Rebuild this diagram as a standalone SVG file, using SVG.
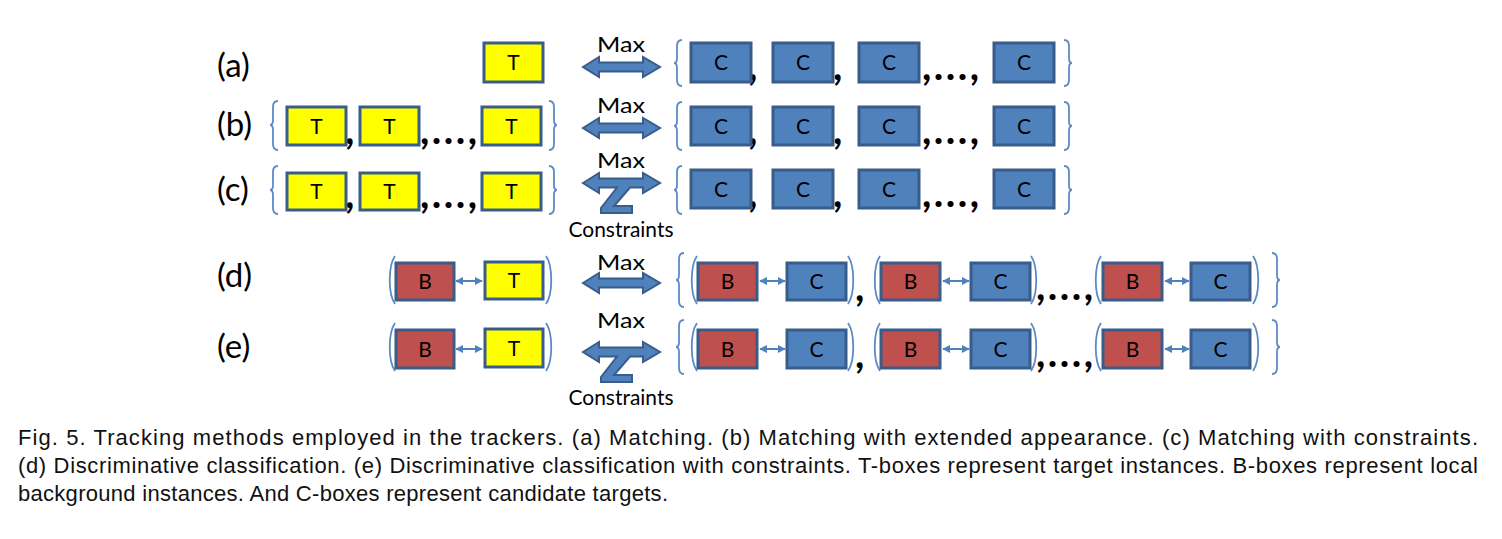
<svg xmlns="http://www.w3.org/2000/svg" xmlns:xlink="http://www.w3.org/1999/xlink" width="1502" height="539" viewBox="0 0 1502 539">
<style>
.t{fill:#FFFF00;stroke:#385D8A;stroke-width:3}
.c{fill:#4F81BD;stroke:#385D8A;stroke-width:3}
.b{fill:#C0504D;stroke:#385D8A;stroke-width:3}
.lt{font-family:Lato,"Open Sans",sans-serif;font-size:21px;fill:#000;text-anchor:middle}
.lab{font-family:Lato,"Open Sans",sans-serif;font-size:33px;fill:#000}
.max{font-family:Lato,"Open Sans",sans-serif;font-size:22px;fill:#000;text-anchor:middle}
.cm{font-family:Lato,"Open Sans",sans-serif;font-size:40px;font-weight:bold;fill:#000}
.br{fill:none;stroke:#5B8BC6;stroke-width:1.8}
.big{fill:#4F81BD;stroke:#385D8A;stroke-width:2;stroke-linejoin:miter}
.sm{stroke:#4F81BD;stroke-width:2;fill:none}
.cap{font-family:"Liberation Sans",Arial,sans-serif;font-size:22px;fill:#111}
</style>
<defs>
<marker id="ah" viewBox="0 0 10 10" refX="9" refY="5" markerWidth="4" markerHeight="4" orient="auto-start-reverse" markerUnits="strokeWidth">
<path d="M0 0 L10 5 L0 10 Z" fill="#4F81BD"/>
</marker>
<path id="dbl" class="big" d="M0 0 L16 -10 L16 -4.5 L60 -4.5 L60 -10 L77 0 L60 10 L60 4.5 L16 4.5 L16 10 Z"/>
<path id="dblz" class="big" d="M0 0 L16 -10 L16 -4.5 L60 -4.5 L60 -10 L77 0 L60 10 L60 4.5 L47 4.5 L31 23 L49 23 L49 30 L18 30 L18 25 L34 4.5 L16 4.5 L16 10 Z"/>
</defs>
<rect width="1502" height="539" fill="#fff"/>

<!-- row labels -->
<g id="labels">
<text class="lab" x="217" y="77">(a)</text>
<text class="lab" x="217" y="136">(b)</text>
<text class="lab" x="217" y="201">(c)</text>
<text class="lab" x="217" y="287">(d)</text>
<text class="lab" x="217" y="358">(e)</text>
</g>

<!-- connectors -->
<g id="connectors">
<use xlink:href="#dbl" href="#dbl" x="583" y="67"/>
<use xlink:href="#dbl" href="#dbl" x="583" y="128"/>
<use xlink:href="#dblz" href="#dblz" x="583" y="183"/>
<use xlink:href="#dbl" href="#dbl" x="583" y="283"/>
<use xlink:href="#dblz" href="#dblz" x="583" y="352"/>
<line class="sm" x1="456" y1="281" x2="482" y2="281" marker-start="url(#ah)" marker-end="url(#ah)"/>
<line class="sm" x1="760" y1="281" x2="785" y2="281" marker-start="url(#ah)" marker-end="url(#ah)"/>
<line class="sm" x1="943" y1="281" x2="969" y2="281" marker-start="url(#ah)" marker-end="url(#ah)"/>
<line class="sm" x1="1165" y1="281" x2="1189" y2="281" marker-start="url(#ah)" marker-end="url(#ah)"/>
<line class="sm" x1="456" y1="349" x2="482" y2="349" marker-start="url(#ah)" marker-end="url(#ah)"/>
<line class="sm" x1="760" y1="349" x2="785" y2="349" marker-start="url(#ah)" marker-end="url(#ah)"/>
<line class="sm" x1="943" y1="349" x2="969" y2="349" marker-start="url(#ah)" marker-end="url(#ah)"/>
<line class="sm" x1="1165" y1="349" x2="1189" y2="349" marker-start="url(#ah)" marker-end="url(#ah)"/>
<text class="max" x="621" y="52" textLength="48" lengthAdjust="spacingAndGlyphs">Max</text>
<text class="max" x="621" y="113" textLength="48" lengthAdjust="spacingAndGlyphs">Max</text>
<text class="max" x="621" y="168" textLength="48" lengthAdjust="spacingAndGlyphs">Max</text>
<text class="max" x="621" y="237" textLength="105" lengthAdjust="spacingAndGlyphs">Constraints</text>
<text class="max" x="621" y="270" textLength="48" lengthAdjust="spacingAndGlyphs">Max</text>
<text class="max" x="621" y="328" textLength="48" lengthAdjust="spacingAndGlyphs">Max</text>
<text class="max" x="621" y="405" textLength="105" lengthAdjust="spacingAndGlyphs">Constraints</text>
</g>

<!-- braces, parentheses and commas -->
<g id="punctuation">
<path class="br" d="M682 40 Q677 40 677 46 L677 58 Q677 63 674 63 Q677 63 677 68 L677 80 Q677 86 682 86"/>
<path class="br" d="M1064 40 Q1069 40 1069 46 L1069 58 Q1069 63 1072 63 Q1069 63 1069 68 L1069 80 Q1069 86 1064 86"/>
<path class="br" d="M278 101 Q273 101 273 107 L273 120 Q273 125 270 125 Q273 125 273 130 L273 144 Q273 150 278 150"/>
<path class="br" d="M549 101 Q554 101 554 107 L554 120 Q554 125 557 125 Q554 125 554 130 L554 144 Q554 150 549 150"/>
<path class="br" d="M682 102 Q677 102 677 108 L677 121 Q677 126 674 126 Q677 126 677 131 L677 144 Q677 150 682 150"/>
<path class="br" d="M1064 102 Q1069 102 1069 108 L1069 121 Q1069 126 1072 126 Q1069 126 1069 131 L1069 144 Q1069 150 1064 150"/>
<path class="br" d="M278 166 Q273 166 273 172 L273 185 Q273 190 270 190 Q273 190 273 195 L273 208 Q273 214 278 214"/>
<path class="br" d="M549 166 Q554 166 554 172 L554 185 Q554 190 557 190 Q554 190 554 195 L554 208 Q554 214 549 214"/>
<path class="br" d="M682 166 Q677 166 677 172 L677 185 Q677 190 674 190 Q677 190 677 195 L677 208 Q677 214 682 214"/>
<path class="br" d="M1064 166 Q1069 166 1069 172 L1069 185 Q1069 190 1072 190 Q1069 190 1069 195 L1069 208 Q1069 214 1064 214"/>
<path class="br" d="M684 253 Q679 253 679 259 L679 275 Q679 280 676 280 Q679 280 679 285 L679 301 Q679 307 684 307"/>
<path class="br" d="M1272 253 Q1277 253 1277 259 L1277 275 Q1277 280 1280 280 Q1277 280 1277 285 L1277 301 Q1277 307 1272 307"/>
<path class="br" d="M684 320 Q679 320 679 326 L679 342 Q679 347 676 347 Q679 347 679 352 L679 368 Q679 374 684 374"/>
<path class="br" d="M1272 320 Q1277 320 1277 326 L1277 342 Q1277 347 1280 347 Q1277 347 1277 352 L1277 368 Q1277 374 1272 374"/>
<path class="br" d="M395 256 C388 266 388 294 395 304"/>
<path class="br" d="M546 256 C553 266 553 294 546 304"/>
<path class="br" d="M697 256 C690 266 690 294 697 304"/>
<path class="br" d="M848 256 C855 266 855 294 848 304"/>
<path class="br" d="M880 256 C873 266 873 294 880 304"/>
<path class="br" d="M1031 256 C1038 266 1038 294 1031 304"/>
<path class="br" d="M1101 256 C1094 266 1094 294 1101 304"/>
<path class="br" d="M1253 256 C1260 266 1260 294 1253 304"/>
<path class="br" d="M395 323 C388 333 388 361 395 371"/>
<path class="br" d="M546 323 C553 333 553 361 546 371"/>
<path class="br" d="M697 323 C690 333 690 361 697 371"/>
<path class="br" d="M848 323 C855 333 855 361 848 371"/>
<path class="br" d="M880 323 C873 333 873 361 880 371"/>
<path class="br" d="M1031 323 C1038 333 1038 361 1031 371"/>
<path class="br" d="M1101 323 C1094 333 1094 361 1101 371"/>
<path class="br" d="M1253 323 C1260 333 1260 361 1253 371"/>
<text class="cm" x="748" y="80">,</text>
<text class="cm" x="833" y="80">,</text>
<text class="cm" x="922" y="80" textLength="57" lengthAdjust="spacing">,...,</text>
<text class="cm" x="345" y="144">,</text>
<text class="cm" x="420" y="144" textLength="57" lengthAdjust="spacing">,...,</text>
<text class="cm" x="748" y="144">,</text>
<text class="cm" x="833" y="144">,</text>
<text class="cm" x="922" y="144" textLength="57" lengthAdjust="spacing">,...,</text>
<text class="cm" x="345" y="208">,</text>
<text class="cm" x="420" y="208" textLength="57" lengthAdjust="spacing">,...,</text>
<text class="cm" x="748" y="207">,</text>
<text class="cm" x="833" y="207">,</text>
<text class="cm" x="922" y="207" textLength="57" lengthAdjust="spacing">,...,</text>
<text class="cm" x="855" y="301">,</text>
<text class="cm" x="1036" y="300" textLength="57" lengthAdjust="spacing">,...,</text>
<text class="cm" x="855" y="368">,</text>
<text class="cm" x="1036" y="367" textLength="57" lengthAdjust="spacing">,...,</text>
</g>

<!-- row (a) -->
<g id="a-T1"><rect class="t" x="484" y="43" width="59" height="39"/><text class="lt" x="513.5" y="70">T</text></g>
<g id="a-C1"><rect class="c" x="691" y="43" width="60" height="39"/><text class="lt" x="721" y="70">C</text></g>
<g id="a-C2"><rect class="c" x="773" y="43" width="60" height="39"/><text class="lt" x="803" y="70">C</text></g>
<g id="a-C3"><rect class="c" x="859" y="43" width="60" height="39"/><text class="lt" x="889" y="70">C</text></g>
<g id="a-Cn"><rect class="c" x="994" y="43" width="60" height="39"/><text class="lt" x="1024" y="70">C</text></g>

<!-- row (b) -->
<g id="b-T1"><rect class="t" x="287" y="107" width="59" height="38"/><text class="lt" x="316.5" y="133.5">T</text></g>
<g id="b-T2"><rect class="t" x="360" y="107" width="59" height="38"/><text class="lt" x="389.5" y="133.5">T</text></g>
<g id="b-Tn"><rect class="t" x="482" y="107" width="59" height="38"/><text class="lt" x="511.5" y="133.5">T</text></g>
<g id="b-C1"><rect class="c" x="691" y="107" width="60" height="38"/><text class="lt" x="721" y="133.5">C</text></g>
<g id="b-C2"><rect class="c" x="773" y="107" width="60" height="38"/><text class="lt" x="803" y="133.5">C</text></g>
<g id="b-C3"><rect class="c" x="859" y="107" width="60" height="38"/><text class="lt" x="889" y="133.5">C</text></g>
<g id="b-Cn"><rect class="c" x="994" y="107" width="60" height="38"/><text class="lt" x="1024" y="133.5">C</text></g>

<!-- row (c) -->
<g id="c-T1"><rect class="t" x="287" y="173" width="59" height="37"/><text class="lt" x="316.5" y="199">T</text></g>
<g id="c-T2"><rect class="t" x="360" y="173" width="59" height="37"/><text class="lt" x="389.5" y="199">T</text></g>
<g id="c-Tn"><rect class="t" x="482" y="173" width="59" height="37"/><text class="lt" x="511.5" y="199">T</text></g>
<g id="c-C1"><rect class="c" x="691" y="170" width="60" height="38"/><text class="lt" x="721" y="196.5">C</text></g>
<g id="c-C2"><rect class="c" x="773" y="170" width="60" height="38"/><text class="lt" x="803" y="196.5">C</text></g>
<g id="c-C3"><rect class="c" x="859" y="170" width="60" height="38"/><text class="lt" x="889" y="196.5">C</text></g>
<g id="c-Cn"><rect class="c" x="994" y="170" width="60" height="38"/><text class="lt" x="1024" y="196.5">C</text></g>

<!-- row (d) -->
<g id="d-B"><rect class="b" x="396" y="263" width="58" height="37"/><text class="lt" x="425" y="289">B</text></g>
<g id="d-T"><rect class="t" x="485" y="262" width="58" height="37"/><text class="lt" x="514" y="288">T</text></g>
<g id="d-B1"><rect class="b" x="698" y="263" width="59" height="37"/><text class="lt" x="727.5" y="289">B</text></g>
<g id="d-C1"><rect class="c" x="787" y="263" width="59" height="37"/><text class="lt" x="816.5" y="289">C</text></g>
<g id="d-B2"><rect class="b" x="881" y="263" width="59" height="37"/><text class="lt" x="910.5" y="289">B</text></g>
<g id="d-C2"><rect class="c" x="971" y="263" width="59" height="37"/><text class="lt" x="1000.5" y="289">C</text></g>
<g id="d-Bn"><rect class="b" x="1103" y="263" width="59" height="37"/><text class="lt" x="1132.5" y="289">B</text></g>
<g id="d-Cn"><rect class="c" x="1191" y="263" width="59" height="37"/><text class="lt" x="1220.5" y="289">C</text></g>

<!-- row (e) -->
<g id="e-B"><rect class="b" x="396" y="330" width="58" height="38"/><text class="lt" x="425" y="356.5">B</text></g>
<g id="e-T"><rect class="t" x="485" y="329" width="58" height="38"/><text class="lt" x="514" y="355.5">T</text></g>
<g id="e-B1"><rect class="b" x="698" y="330" width="59" height="38"/><text class="lt" x="727.5" y="356.5">B</text></g>
<g id="e-C1"><rect class="c" x="787" y="330" width="59" height="38"/><text class="lt" x="816.5" y="356.5">C</text></g>
<g id="e-B2"><rect class="b" x="881" y="330" width="59" height="38"/><text class="lt" x="910.5" y="356.5">B</text></g>
<g id="e-C2"><rect class="c" x="971" y="330" width="59" height="38"/><text class="lt" x="1000.5" y="356.5">C</text></g>
<g id="e-Bn"><rect class="b" x="1103" y="330" width="59" height="38"/><text class="lt" x="1132.5" y="356.5">B</text></g>
<g id="e-Cn"><rect class="c" x="1191" y="330" width="59" height="38"/><text class="lt" x="1220.5" y="356.5">C</text></g>

<!-- caption -->
<g id="caption">
<text class="cap" x="18" y="445" textLength="1460" lengthAdjust="spacing">Fig. 5. Tracking methods employed in the trackers. (a) Matching. (b) Matching with extended appearance. (c) Matching with constraints.</text>
<text class="cap" x="18" y="473" textLength="1460" lengthAdjust="spacing">(d) Discriminative classification. (e) Discriminative classification with constraints. T-boxes represent target instances. B-boxes represent local</text>
<text class="cap" x="18" y="501" textLength="650" lengthAdjust="spacing">background instances. And C-boxes represent candidate targets.</text>
</g>
</svg>
